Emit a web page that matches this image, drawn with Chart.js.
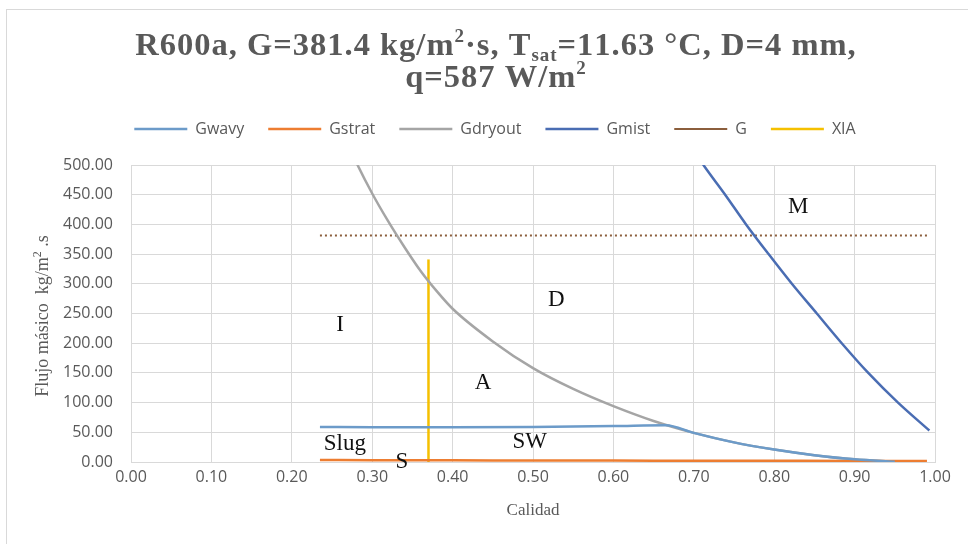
<!DOCTYPE html>
<html>
<head>
<meta charset="utf-8">
<script src="https://cdn.jsdelivr.net/npm/chart.js@4.4.1/dist/chart.umd.min.js"></script>
<style>
  html, body { margin: 0; padding: 0; background: #fff; }
  #wrap { width: 968px; height: 544px; position: relative; }
</style>
</head>
<body>
<div id="wrap"><canvas id="chart" width="968" height="544"></canvas></div>
<script>
// x ticks (Calidad) and y ticks (Flujo másico)
var xTicks = [0, 0.1, 0.2, 0.3, 0.4, 0.5, 0.6, 0.7, 0.8, 0.9, 1.0];
var yTicks = [0, 50, 100, 150, 200, 250, 300, 350, 400, 450, 500];

// series
var gwavyX = [0.235, 0.30, 0.40, 0.50, 0.60, 0.665, 0.70, 0.75, 0.80, 0.85, 0.90, 0.95];
var gwavyY = [59, 58.5, 58.5, 59, 60.5, 62, 49, 33, 21, 11.5, 4.5, 0.5];

var gstratX = [0.235, 0.30, 0.40, 0.50, 0.60, 0.70, 0.80, 0.90, 0.99];
var gstratY = [3.5, 3, 2.8, 2.6, 2.4, 2.2, 2, 1.8, 1.5];

var gdryX = [0.26, 0.28, 0.30, 0.32, 0.34, 0.36, 0.38, 0.40, 0.45, 0.50, 0.55, 0.60, 0.65, 0.70, 0.75, 0.80, 0.85, 0.90, 0.95];
var gdryY = [565, 505, 452, 405, 362, 322, 288, 258, 203, 158, 123, 94, 69, 49, 33, 21, 11.5, 4.5, 0.5];

var gmistX = [0.69, 0.712, 0.739, 0.765, 0.793, 0.822, 0.853, 0.884, 0.917, 0.954, 0.993];
var gmistY = [545, 500, 450, 400, 350, 300, 250, 200, 150, 100, 53];

var gX = [0.235, 0.99];
var gY = [381.4, 381.4];

var xiaX = [0.37, 0.37];
var xiaY = [0, 341];

// region labels on the map
var regionText = ['I', 'D', 'A', 'Slug', 'SW', 'S', 'M'];
var regionX    = [0.260, 0.529, 0.438, 0.266, 0.496, 0.337, 0.830];
var regionY    = [230, 272, 133, 31, 34, 0, 430];

function pts(xs, ys) {
  return xs.map(function(x, i) { return { x: x, y: ys[i] }; });
}

function lineSet(label, xs, ys, color, extra) {
  var ds = {
    label: label,
    data: pts(xs, ys),
    borderColor: color,
    backgroundColor: color,
    borderWidth: 2.5,
    pointRadius: 0,
    pointHoverRadius: 0,
    fill: false,
    cubicInterpolationMode: 'monotone'
  };
  for (var k in extra) ds[k] = extra[k];
  return ds;
}

// text pieces with own size / vertical offset (sub and superscripts), drawn char by char
function drawRuns(ctx, runs, cx, y, family, weight, color, spacing) {
  var total = 0;
  runs.forEach(function(r) {
    ctx.font = weight + ' ' + r.s + 'px ' + family;
    r.w = 0;
    for (var i = 0; i < r.t.length; i++) r.w += ctx.measureText(r.t[i]).width + spacing;
    total += r.w;
  });
  var x = cx - total / 2;
  ctx.fillStyle = color;
  ctx.textBaseline = 'alphabetic';
  ctx.textAlign = 'left';
  runs.forEach(function(r) {
    ctx.font = weight + ' ' + r.s + 'px ' + family;
    for (var i = 0; i < r.t.length; i++) {
      ctx.fillText(r.t[i], x, y + (r.dy || 0));
      x += ctx.measureText(r.t[i]).width + spacing;
    }
  });
}

var decorPlugin = {
  id: 'decor',
  beforeDraw: function(chart) {
    var ctx = chart.ctx;
    ctx.save();
    ctx.fillStyle = '#fff';
    ctx.fillRect(0, 0, chart.width, chart.height);
    ctx.strokeStyle = '#d9d9d9';
    ctx.lineWidth = 1;
    ctx.strokeRect(6.5, 9.5, 1000, 600);
    ctx.restore();
  },
  afterDraw: function(chart) {
    var ctx = chart.ctx;
    var serif = '"Liberation Serif", "Times New Roman", serif';
    ctx.save();
    // title
    drawRuns(ctx, [
      { t: 'R600a, G=381.4 kg/m', s: 32.5 },
      { t: '2', s: 19, dy: -13 },
      { t: '·s, T', s: 32.5 },
      { t: 'sat', s: 19, dy: 6 },
      { t: '=11.63 °C, D=4 mm,', s: 32.5 }
    ], 496, 55, serif, 'bold', '#595959', 1);
    drawRuns(ctx, [
      { t: 'q=587 W/m', s: 32.5 },
      { t: '2', s: 19, dy: -13 }
    ], 496, 87, serif, 'bold', '#595959', 1);

    // y axis title
    ctx.translate(42, 316);
    ctx.rotate(-Math.PI / 2);
    drawRuns(ctx, [
      { t: 'Flujo másico  kg/m', s: 18 },
      { t: '2', s: 12, dy: -7 },
      { t: ' .s', s: 18 }
    ], 0, 6, serif, 'normal', '#595959', 0);
    ctx.restore();

    // region labels
    var xs = chart.scales.x, ys = chart.scales.y;
    ctx.save();
    ctx.font = '23px ' + serif;
    ctx.fillStyle = '#111';
    ctx.textAlign = 'center';
    ctx.textBaseline = 'middle';
    regionText.forEach(function(t, i) {
      ctx.fillText(t, xs.getPixelForValue(regionX[i]), ys.getPixelForValue(regionY[i]));
    });
    ctx.restore();
  }
};

var tickFont = { family: '"Open Sans", sans-serif', size: 16 };

new Chart(document.getElementById('chart'), {
  type: 'line',
  data: {
    datasets: [
      lineSet('Gwavy', gwavyX, gwavyY, '#6c9bc9'),
      lineSet('Gstrat', gstratX, gstratY, '#ed7d31'),
      lineSet('Gdryout', gdryX, gdryY, '#a5a5a5'),
      lineSet('Gmist', gmistX, gmistY, '#4a6db3'),
      lineSet('G', gX, gY, '#8b5e3c', { borderWidth: 2, borderDash: [2, 3] }),
      lineSet('XIA', xiaX, xiaY, '#f5c000', { cubicInterpolationMode: 'default', tension: 0 })
    ]
  },
  options: {
    responsive: false,
    animation: false,
    devicePixelRatio: 1,
    layout: { padding: { left: 55, right: 33, top: 97, bottom: 23 } },
    plugins: {
      title: { display: false },
      tooltip: { enabled: false },
      legend: {
        position: 'top',
        labels: {
          usePointStyle: true,
          pointStyle: 'line',
          pointStyleWidth: 53,
          boxHeight: 16,
          padding: 24,
          color: '#595959',
          font: { family: '"Open Sans", sans-serif', size: 16 }
        }
      }
    },
    scales: {
      x: {
        type: 'linear',
        min: 0, max: 1,
        afterBuildTicks: function(s) { s.ticks = xTicks.map(function(v) { return { value: v }; }); },
        afterFit: function(s) { s.height = 59; },
        grid: { color: '#d9d9d9', drawTicks: false },
        border: { color: '#d9d9d9' },
        ticks: {
          color: '#595959', font: tickFont, padding: 6,
          callback: function(v) { return Number(v).toFixed(2); }
        },
        title: {
          display: true, text: 'Calidad', color: '#595959',
          font: { family: '"Liberation Serif", serif', size: 17 },
          padding: { top: 4, bottom: 0 }
        }
      },
      xTop: {
        type: 'linear',
        position: 'top',
        min: 0, max: 1,
        grid: { display: false, drawTicks: false },
        border: { display: false },
        ticks: { display: false },
        afterFit: function(s) { s.height = 18; }
      },
      y: {
        min: 0, max: 500,
        afterBuildTicks: function(s) { s.ticks = yTicks.map(function(v) { return { value: v }; }); },
        afterFit: function(s) { s.width = 76; },
        grid: { color: '#d9d9d9', drawTicks: false },
        border: { color: '#d9d9d9' },
        ticks: {
          color: '#595959', font: tickFont, padding: 18,
          callback: function(v) { return Number(v).toFixed(2); }
        }
      }
    }
  },
  plugins: [decorPlugin]
});
</script>
</body>
</html>
